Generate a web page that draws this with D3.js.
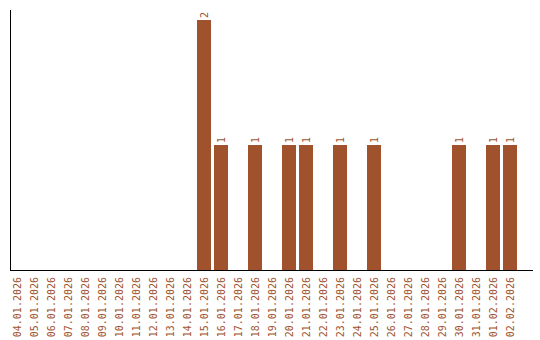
<!DOCTYPE html>
<html>
<head>
<meta charset="utf-8">
<script src="https://cdn.jsdelivr.net/npm/d3@7"></script>
<style>
  body { margin: 0; background: #fff; }
  text { font-family: "DejaVu Sans Mono", monospace; font-size: 10px; fill: #a0522d; }
</style>
</head>
<body>
<div id="chart"></div>
<script>
// dates shown on the x axis
var dates = ["04.01.2026", "05.01.2026", "06.01.2026", "07.01.2026", "08.01.2026",
  "09.01.2026", "10.01.2026", "11.01.2026", "12.01.2026", "13.01.2026",
  "14.01.2026", "15.01.2026", "16.01.2026", "17.01.2026", "18.01.2026",
  "19.01.2026", "20.01.2026", "21.01.2026", "22.01.2026", "23.01.2026",
  "24.01.2026", "25.01.2026", "26.01.2026", "27.01.2026", "28.01.2026",
  "29.01.2026", "30.01.2026", "31.01.2026", "01.02.2026", "02.02.2026"];
var counts = [0, 0, 0, 0, 0, 0, 0, 0, 0, 0,
  0, 2, 1, 0, 1, 0, 1, 1, 0, 1,
  0, 1, 0, 0, 0, 0, 1, 0, 1, 1];

var Data = dates.map((d, i) => ({ date: d, count: counts[i] }));

var svgWidth = 540;
var svgHeight = 340;
var margin = { top: 10, right: 9, bottom: 70, left: 10 };
var chartWidth = svgWidth - margin.left - margin.right;
var chartHeight = svgHeight - margin.top - margin.bottom;

var svg = d3.select("#chart")
  .append("svg")
  .attr("width", svgWidth)
  .attr("height", svgHeight);

var chartGroup = svg.append("g")
  .attr("transform", `translate(${margin.left}, ${margin.top})`);

var xScale = d3.scaleBand()
  .domain(dates)
  .range([0, 510])
  .paddingInner(3 / 17)
  .paddingOuter(3 / 34)
  .align(0);

var yScale = d3.scaleLinear()
  .domain([0, 2])
  .range([chartHeight, 10]);

chartGroup.selectAll("rect")
  .data(Data.filter(d => d.count > 0))
  .enter()
  .append("rect")
  .attr("x", d => xScale(d.date))
  .attr("y", d => yScale(d.count))
  .attr("width", xScale.bandwidth())
  .attr("height", d => chartHeight - yScale(d.count))
  .attr("fill", "#a0522d");

// value labels, rotated like the dates
chartGroup.selectAll(".val")
  .data(Data.filter(d => d.count > 0))
  .enter()
  .append("text")
  .attr("class", "val")
  .attr("transform", d => `translate(${xScale(d.date) + xScale.bandwidth() / 2}, ${yScale(d.count) - 2}) rotate(-90)`)
  .attr("dy", "0.35em")
  .attr("text-anchor", "start")
  .text(d => d.count);

var bottomAxis = d3.axisBottom(xScale).tickSize(0).tickSizeOuter(0);
var xAxis = chartGroup.append("g")
  .attr("transform", `translate(0, ${chartHeight})`)
  .call(bottomAxis);
xAxis.select(".domain").remove();
xAxis.selectAll("text")
  .attr("x", 0)
  .attr("y", 0)
  .attr("dy", "0.35em")
  .attr("transform", "translate(0, 7) rotate(-90)")
  .attr("text-anchor", "end")
  .style("font-family", "DejaVu Sans Mono, monospace")
  .style("font-size", "10px")
  .attr("fill", "#a0522d");

// axis lines
chartGroup.append("line")
  .attr("x1", 0.5).attr("x2", 0.5)
  .attr("y1", 0).attr("y2", chartHeight)
  .attr("stroke", "#000");
chartGroup.append("line")
  .attr("x1", 0).attr("x2", chartWidth + 2)
  .attr("y1", chartHeight + 0.5).attr("y2", chartHeight + 0.5)
  .attr("stroke", "#000");
</script>
</body>
</html>
